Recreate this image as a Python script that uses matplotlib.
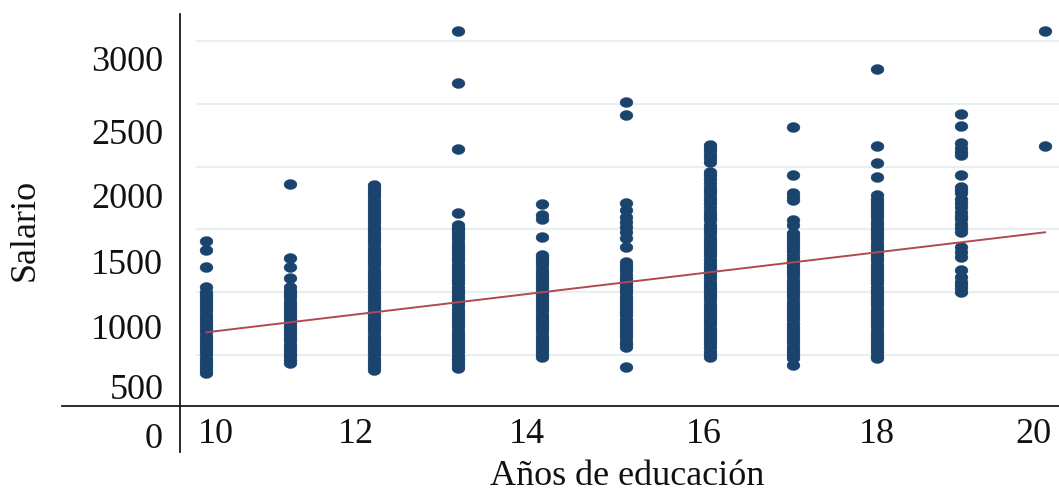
import matplotlib
matplotlib.use("Agg")
import matplotlib.pyplot as plt
from matplotlib.path import Path
from matplotlib.lines import Line2D
import numpy as np

plt.rcParams['font.family'] = ['Liberation Serif', 'DejaVu Serif']

# ---------------- data ----------------
educ_levels = [10, 11, 12, 13, 14, 15, 16, 17, 18, 19, 20]

salario_10 = [357, 380, 405, 430, 455, 480, 505, 530, 555, 580, 605, 630, 655,
              680, 705, 730, 755, 780, 805, 830, 855, 880, 905, 930, 955, 980,
              1005, 1041, 1201, 1336, 1408]
salario_11 = [434, 458, 483, 508, 533, 558, 583, 608, 633, 658, 683, 708, 733,
              758, 783, 808, 833, 858, 883, 908, 933, 958, 983, 1008, 1044,
              1113, 1201, 1272, 1859]
salario_12 = [381, 405, 430, 455, 480, 505, 530, 555, 580, 605, 630, 655, 680,
              705, 730, 755, 780, 805, 830, 855, 880, 905, 930, 955, 980, 1005,
              1030, 1055, 1080, 1105, 1130, 1155, 1180, 1205, 1230, 1255, 1280,
              1305, 1330, 1355, 1380, 1405, 1430, 1455, 1480, 1505, 1530, 1555,
              1580, 1605, 1630, 1655, 1680, 1705, 1730, 1755, 1780, 1805, 1830,
              1854]
salario_13 = [397, 420, 445, 470, 495, 520, 545, 570, 595, 620, 645, 670, 695,
              720, 745, 770, 795, 820, 845, 870, 895, 920, 945, 970, 995, 1020,
              1045, 1070, 1095, 1120, 1145, 1170, 1195, 1220, 1245, 1270, 1295,
              1320, 1345, 1370, 1395, 1420, 1445, 1470, 1495, 1515, 1535, 1628,
              2140, 2668, 3080]
salario_14 = [482, 505, 530, 555, 580, 605, 630, 655, 680, 705, 730, 755, 780,
              805, 830, 855, 880, 905, 930, 955, 980, 1005, 1030, 1055, 1080,
              1105, 1130, 1155, 1180, 1205, 1230, 1255, 1275, 1296, 1437, 1583,
              1615, 1702]
salario_15 = [407, 566, 590, 615, 640, 665, 690, 715, 740, 765, 790, 815, 840,
              865, 890, 915, 940, 965, 990, 1015, 1040, 1065, 1090, 1115, 1140,
              1165, 1190, 1215, 1243, 1360, 1429, 1482, 1521, 1561, 1596, 1654,
              1713, 2411, 2517]
salario_16 = [487, 510, 535, 560, 585, 610, 635, 660, 685, 710, 735, 760, 785,
              810, 835, 860, 885, 910, 935, 960, 985, 1010, 1035, 1060, 1085,
              1110, 1135, 1160, 1185, 1210, 1235, 1260, 1285, 1310, 1335, 1360,
              1385, 1410, 1435, 1460, 1485, 1510, 1535, 1575, 1600, 1625, 1650,
              1680, 1710, 1735, 1760, 1790, 1815, 1840, 1870, 1900, 1930, 1959,
              2039, 2065, 2090, 2125, 2150, 2172]
salario_17 = [420, 476, 500, 525, 550, 575, 600, 625, 650, 675, 700, 725, 750,
              775, 800, 825, 850, 875, 900, 925, 950, 975, 1000, 1025, 1050,
              1075, 1100, 1125, 1150, 1175, 1200, 1225, 1250, 1275, 1300, 1325,
              1350, 1375, 1400, 1425, 1450, 1471, 1535, 1575, 1734, 1760, 1790,
              1933, 2313]
salario_18 = [474, 495, 520, 545, 570, 595, 620, 645, 670, 695, 720, 745, 770,
              795, 820, 845, 870, 895, 920, 945, 970, 995, 1020, 1045, 1070,
              1095, 1120, 1145, 1170, 1195, 1220, 1245, 1270, 1295, 1320, 1345,
              1370, 1395, 1420, 1445, 1470, 1495, 1520, 1545, 1570, 1595, 1620,
              1645, 1670, 1695, 1720, 1745, 1774, 1920, 2026, 2166, 2777]
salario_19 = [1004, 1030, 1055, 1080, 1120, 1177, 1283, 1320, 1362, 1482, 1510,
              1540, 1580, 1610, 1640, 1680, 1710, 1740, 1790, 1815, 1840, 1933,
              2092, 2120, 2150, 2188, 2323, 2419]
salario_20 = [2166, 3082]

salarios = [salario_10, salario_11, salario_12, salario_13, salario_14, salario_15,
            salario_16, salario_17, salario_18, salario_19, salario_20]

# fitted regression line (end points)
reg_educ = [10, 20]
reg_salario = [681, 1477]

grid_values = [500, 1000, 1500, 2000, 2500, 3000]

y_tick_labels = ['500', '1000', '1500', '2000', '2500', '3000']
x_tick_labels = ['10', '12', '14', '16', '18', '20']

# ---------------- label placement (layout, not data) ----------------
y_tick_pos = [253, 727, 1248, 1766, 2283, 2857]
x_tick_pos = [10.113, 11.783, 13.822, 15.933, 17.996, 19.857]
zero_label_pos = -137

# ---------------- figure ----------------
W, H = 1059, 493
fig = plt.figure(figsize=(W / 100, H / 100), dpi=100)
ax = fig.add_axes([180 / W, (H - 405) / H, 879 / W, 390 / H])
ax.set_xlim(9.684, 20.167)
ax.set_ylim(101.9, 3207)

for g in grid_values:
    ax.axhline(g, xmin=0.019, xmax=1.0, color='#e8eff0', lw=1.6, zorder=0)

# elliptical marker (slightly wider than tall, as in the reference)
t = np.linspace(0, 2 * np.pi, 41)
ellipse = Path(np.column_stack([1.3 * np.cos(t), np.sin(t)]), closed=True)

xs = np.concatenate([[e] * len(s) for e, s in zip(educ_levels, salarios)])
ys = np.concatenate(salarios)
ax.plot(xs, ys, ls='none', marker=ellipse, ms=9.3, mfc='#1a436d', mec='#1a436d',
        mew=0.3, zorder=2)

ax.plot(reg_educ, reg_salario, color='#b04a50', lw=1.4, zorder=3)

for sp in ax.spines.values():
    sp.set_visible(False)

ax.set_yticks(y_tick_pos, y_tick_labels)
ax.set_xticks(x_tick_pos, x_tick_labels)
ax.tick_params(axis='both', length=0, labelsize=26, colors='#111111')
ax.tick_params(axis='y', pad=12)
ax.tick_params(axis='x', pad=9.5)

ax.text(-0.0193, zero_label_pos, '0', transform=ax.get_yaxis_transform(),
        ha='right', va='center_baseline', fontsize=26, color='#111111',
        clip_on=False)

ax.set_xlabel('Años de educación', fontsize=26, color='#111111', va='baseline')
ax.xaxis.set_label_coords((627 - 180) / 879, (405 - 485) / 390)
ax.set_ylabel('Salario', fontsize=26, color='#111111', va='center', ha='center')
ax.yaxis.set_label_coords((25 - 180) / 879, (405 - 230) / 390)

# axis lines that cross and extend past each other
fig.add_artist(Line2D([62 / W, 1.0], [(H - 405.5) / H] * 2, color='#1a1a1a', lw=1.3))
fig.add_artist(Line2D([179.5 / W] * 2, [1 - 14 / H, 1 - 452 / H], color='#1a1a1a', lw=1.3))

fig.savefig('out.png', dpi=100)
